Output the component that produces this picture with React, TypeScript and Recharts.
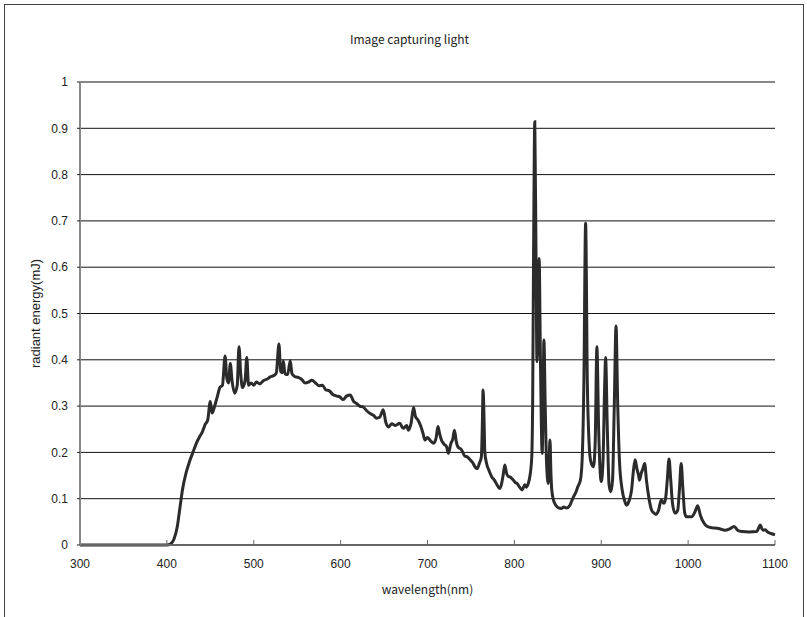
import React from 'react';
import { LineChart, Line, XAxis, YAxis, CartesianGrid } from 'recharts';

// wavelength (nm) and radiant energy (mJ)
const wavelengths = [
  300, 350, 400, 404, 408, 412, 415, 418, 422, 426, 430, 434, 438, 441, 444, 447, 450, 452, 455, 458,
  461, 464, 467, 469, 471, 473, 475, 478, 481, 483, 485, 487, 490, 492, 494, 497, 500, 503, 507, 511,
  515, 519, 523, 526, 529, 531, 533, 534, 536, 539, 542, 544, 547, 551, 555, 559, 563, 567, 571, 575,
  579, 583, 587, 591, 595, 599, 603, 607, 611, 615, 618, 622, 626, 630, 634, 638, 641, 645, 649, 652,
  655, 659, 663, 668, 672, 676, 678, 681, 684, 686, 689, 692, 695, 697, 700, 704, 707, 710, 712, 714,
  716, 719, 722, 724, 727, 729, 731, 733, 735, 739, 743, 746, 749, 752, 755, 757, 760, 762, 763, 764,
  765, 766, 768, 771, 774, 777, 780, 783, 785, 787, 789, 791, 793, 795, 798, 801, 803, 806, 809, 812,
  814, 816, 818, 820, 821, 822, 823.5, 825, 826, 827, 828.5, 830, 832, 833, 834, 835.5, 837, 839, 840, 841,
  842, 843, 845, 848, 851, 854, 857, 860, 864, 866, 868, 871, 873, 876, 878, 880, 882, 884, 886, 888,
  891, 893, 895, 897, 900, 902, 904, 905, 907, 909, 911, 913, 915, 917, 919, 921, 924, 927, 929, 932,
  935, 937, 939, 941, 943, 944, 946, 948, 950, 952, 955, 958, 960, 963, 966, 969, 972, 974, 976, 978,
  980, 982, 985, 988, 990, 992, 994, 996, 998, 1004, 1008, 1011, 1014, 1018, 1022, 1028, 1033, 1038, 1042, 1048,
  1053, 1057, 1062, 1070, 1079, 1081, 1083, 1085, 1087, 1089, 1091, 1095, 1100,
];

const energy = [
  0, 0, 0, 0.002, 0.012, 0.04, 0.08, 0.12, 0.155, 0.18, 0.2, 0.22, 0.235, 0.245, 0.26, 0.27, 0.31, 0.285, 0.3, 0.32,
  0.34, 0.345, 0.408, 0.36, 0.35, 0.392, 0.355, 0.328, 0.345, 0.428, 0.37, 0.34, 0.355, 0.405, 0.345, 0.35, 0.345, 0.352, 0.348, 0.355,
  0.358, 0.363, 0.366, 0.372, 0.434, 0.375, 0.372, 0.398, 0.37, 0.368, 0.398, 0.37, 0.364, 0.362, 0.358, 0.35, 0.352, 0.356, 0.35, 0.344,
  0.345, 0.335, 0.333, 0.325, 0.322, 0.32, 0.314, 0.322, 0.324, 0.31, 0.306, 0.3, 0.298, 0.29, 0.284, 0.28, 0.274, 0.276, 0.292, 0.265,
  0.255, 0.262, 0.258, 0.263, 0.252, 0.258, 0.248, 0.262, 0.297, 0.278, 0.27, 0.258, 0.24, 0.227, 0.232, 0.224, 0.22, 0.232, 0.256, 0.24,
  0.227, 0.218, 0.212, 0.198, 0.22, 0.228, 0.248, 0.225, 0.212, 0.206, 0.192, 0.19, 0.184, 0.178, 0.168, 0.165, 0.178, 0.19, 0.25, 0.335,
  0.28, 0.2, 0.176, 0.16, 0.147, 0.14, 0.13, 0.122, 0.13, 0.15, 0.173, 0.155, 0.148, 0.147, 0.142, 0.135, 0.133, 0.125, 0.119, 0.13,
  0.125, 0.133, 0.15, 0.19, 0.3, 0.6, 0.914, 0.6, 0.396, 0.45, 0.619, 0.4, 0.198, 0.3, 0.443, 0.3, 0.18, 0.133, 0.18, 0.227,
  0.16, 0.12, 0.097, 0.085, 0.08, 0.079, 0.082, 0.08, 0.086, 0.095, 0.104, 0.115, 0.126, 0.14, 0.184, 0.35, 0.695, 0.35, 0.22, 0.18,
  0.169, 0.22, 0.428, 0.25, 0.137, 0.18, 0.35, 0.405, 0.25, 0.13, 0.115, 0.14, 0.3, 0.473, 0.3, 0.18, 0.12, 0.095, 0.086, 0.095,
  0.12, 0.16, 0.184, 0.165, 0.15, 0.14, 0.155, 0.165, 0.176, 0.14, 0.1, 0.075, 0.07, 0.066, 0.075, 0.097, 0.09, 0.1, 0.14, 0.186,
  0.14, 0.09, 0.069, 0.075, 0.12, 0.176, 0.12, 0.07, 0.061, 0.061, 0.072, 0.085, 0.065, 0.048, 0.04, 0.037, 0.036, 0.034, 0.032, 0.035,
  0.04, 0.032, 0.029, 0.028, 0.029, 0.036, 0.043, 0.035, 0.032, 0.033, 0.029, 0.025, 0.022,
];

const xTicks = [300, 400, 500, 600, 700, 800, 900, 1000, 1100];
const yTicks = [0, 0.1, 0.2, 0.3, 0.4, 0.5, 0.6, 0.7, 0.8, 0.9, 1];

const data = wavelengths.map((w, i) => ({ w, e: energy[i] }));

const tickFont = { fontSize: 12, fill: '#222', fontFamily: '"Liberation Sans", Arial, sans-serif' };

export default function App() {
  return (
    <div style={{ position: 'absolute', left: 0, top: 0, width: 807, height: 617, background: '#fff' }}>
      {/* outer frame */}
      <div style={{ position: 'absolute', left: 4, top: 4, width: 800, height: 613, border: '1px solid #444', borderBottom: 'none', boxSizing: 'border-box' }} />
      <div
        style={{
          position: 'absolute', left: 0, width: 807, top: 30, textAlign: 'center', paddingLeft: 6,
          fontSize: 12, fontFamily: '"Noto Sans CJK JP", sans-serif', color: '#222',
        }}
      >
        Image capturing light
      </div>
      <LineChart
        width={807}
        height={617}
        data={data}
        margin={{ top: 82, right: 32, left: 0, bottom: 17 }}
        style={{ position: 'absolute', left: 0, top: 0 }}
      >
        <CartesianGrid vertical={false} stroke="#111" strokeWidth={1} />
        <XAxis
          dataKey="w"
          type="number"
          domain={[300, 1100]}
          ticks={xTicks}
          height={55}
          tick={tickFont}
          tickSize={-5}
          tickMargin={19}
          tickLine={{ stroke: '#666' }}
          axisLine={{ stroke: '#666', strokeWidth: 2 }}
          label={{
            value: 'wavelength(nm)',
            position: 'insideBottom',
            offset: 6,
            style: { fontSize: 12, fill: '#222', fontFamily: '"Noto Sans CJK JP", sans-serif' },
          }}
        />
        <XAxis xAxisId="top" orientation="top" dataKey="w" type="number" domain={[300, 1100]} height={0} tick={false} tickLine={false} axisLine={{ stroke: '#999', strokeWidth: 2 }} />
        <YAxis
          domain={[0, 1]}
          ticks={yTicks}
          width={80}
          tick={tickFont}
          tickSize={3}
          tickMargin={9}
          tickLine={{ stroke: '#222' }}
          axisLine={{ stroke: '#888', strokeWidth: 2 }}
          label={{
            value: 'radiant energy(mJ)',
            angle: -90,
            position: 'center',
            dx: -5,
            style: { fontSize: 13, fill: '#222', fontFamily: '"Liberation Sans", Arial, sans-serif' },
          }}
        />
        <YAxis yAxisId="right" orientation="right" domain={[0, 1]} width={0} tick={false} tickLine={false} axisLine={{ stroke: '#999', strokeWidth: 2 }} />
        <Line
          type="monotone"
          dataKey="e"
          stroke="#2b2b2b"
          strokeWidth={3}
          dot={false}
          isAnimationActive={false}
        />
      </LineChart>
    </div>
  );
}
